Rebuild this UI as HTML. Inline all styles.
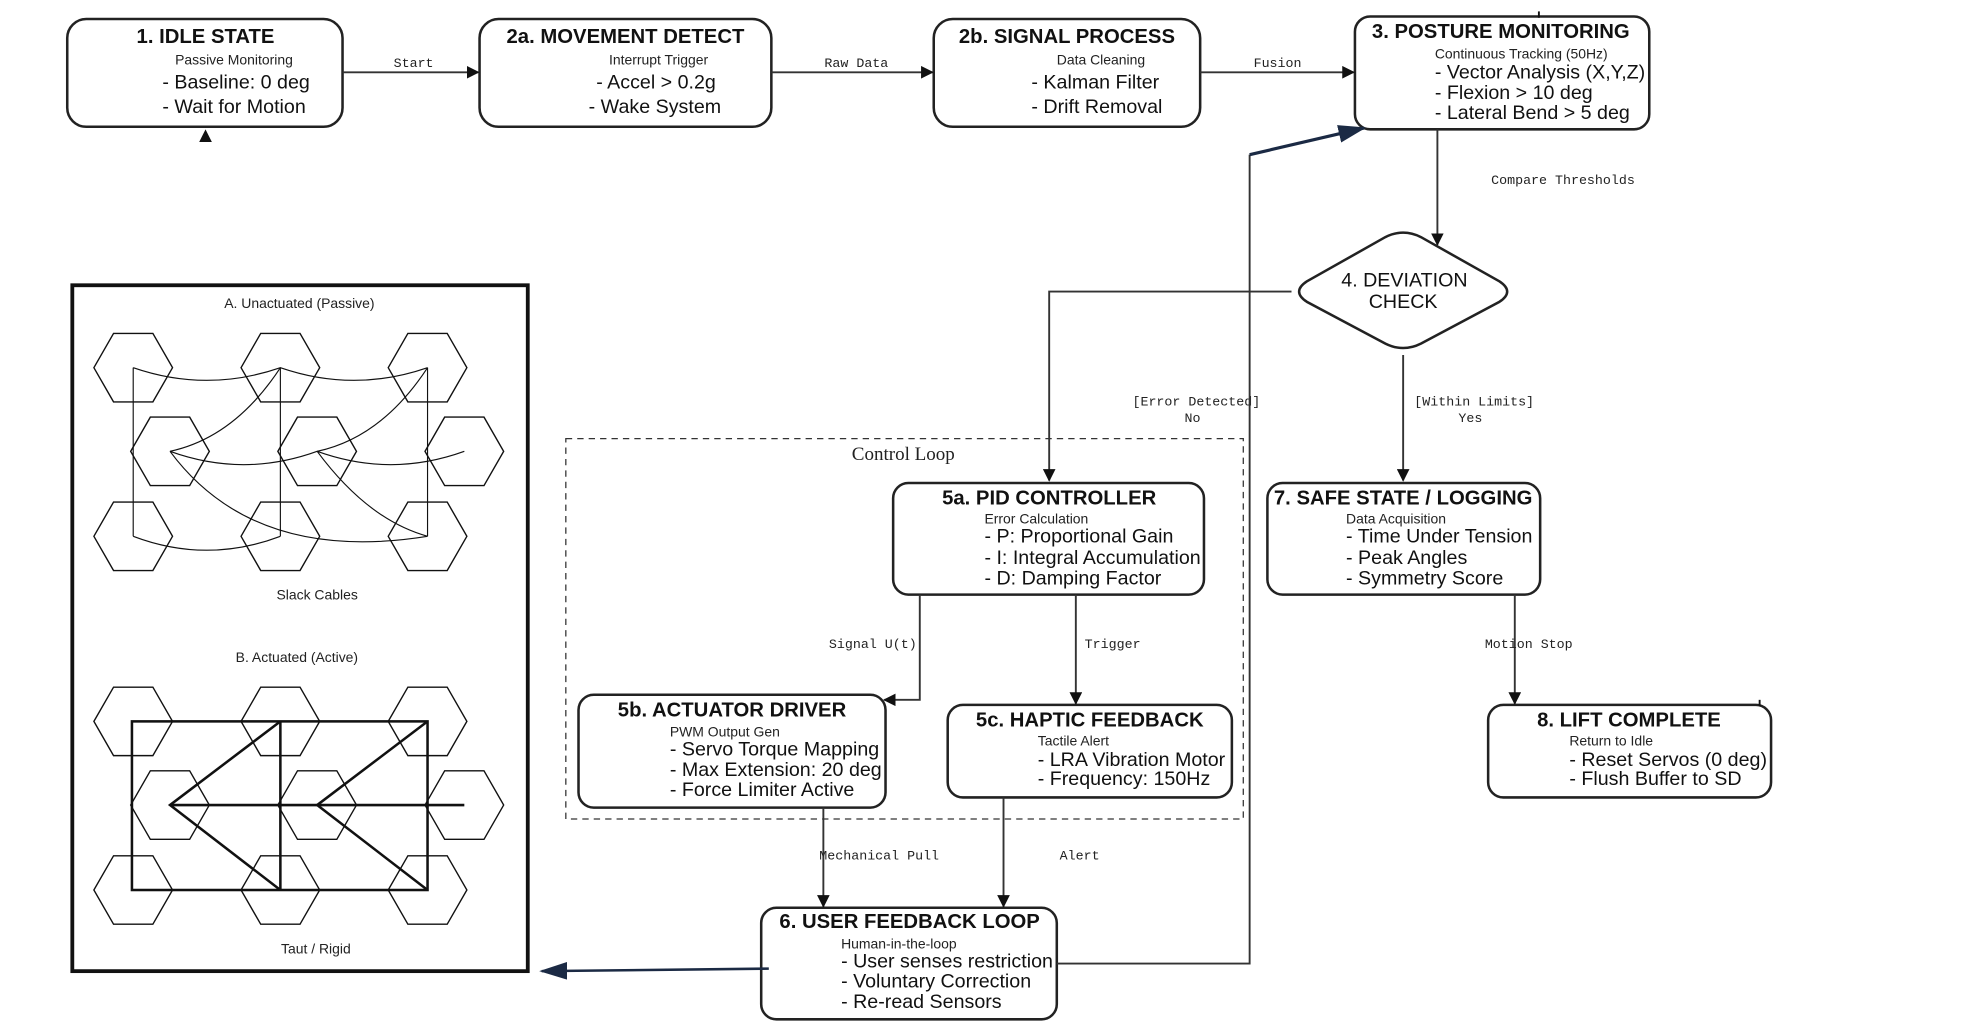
<!DOCTYPE html>
<html><head><meta charset="utf-8"><style>
html,body{margin:0;padding:0;background:#fff;width:1988px;height:1032px;overflow:hidden}
svg{display:block}
.t{font-family:"Liberation Sans",Arial,sans-serif;font-weight:bold;font-size:16px;text-anchor:middle;fill:#111}
.s{font-family:"Liberation Sans",Arial,sans-serif;font-size:11px;fill:#222}
.l{font-family:"Liberation Sans",Arial,sans-serif;font-size:15.5px;fill:#111}
.m{font-family:"Liberation Mono",monospace;font-size:10.5px;fill:#222;text-anchor:middle}
.p{font-family:"Liberation Sans",Arial,sans-serif;font-size:11px;fill:#222;text-anchor:middle}
.box{fill:#fff;stroke:#222;stroke-width:2}
.c{fill:none;stroke:#333;stroke-width:1.5}
.hx{fill:none;stroke:#111;stroke-width:1.1}
</style></head><body>
<svg width="1988" height="1032" viewBox="0 0 1567 814" preserveAspectRatio="none" xmlns="http://www.w3.org/2000/svg">
<defs>
<marker id="a" markerWidth="10" markerHeight="10" refX="9" refY="5" orient="auto" markerUnits="userSpaceOnUse"><path d="M0,0 L10,5 L0,10 z" fill="#111"/></marker>
<marker id="n" markerWidth="22" markerHeight="14" refX="20" refY="7" orient="auto" markerUnits="userSpaceOnUse"><path d="M0,0 L22,7 L0,14 z" fill="#1b2a44"/></marker>
<polygon id="h" points="-31,0 -15.5,-27 15.5,-27 31,0 15.5,27 -15.5,27"/>
</defs>

<rect class="box" x="53" y="15" width="217" height="85" rx="15"/>
<text class="t" x="162" y="34">1. IDLE STATE</text>
<text class="s" x="138" y="51">Passive Monitoring</text>
<text class="l" x="128" y="70">- Baseline: 0 deg</text>
<text class="l" x="128" y="89">- Wait for Motion</text>
<path d="M157,112 L162,102 L167,112 z" fill="#111"/>

<rect class="box" x="378" y="15" width="230" height="85" rx="15"/>
<text class="t" x="493" y="34">2a. MOVEMENT DETECT</text>
<text class="s" x="480" y="51">Interrupt Trigger</text>
<text class="l" x="470" y="70">- Accel &gt; 0.2g</text>
<text class="l" x="464" y="89">- Wake System</text>

<rect class="box" x="736" y="15" width="210" height="85" rx="15"/>
<text class="t" x="841" y="34">2b. SIGNAL PROCESS</text>
<text class="s" x="833" y="51">Data Cleaning</text>
<text class="l" x="813" y="70">- Kalman Filter</text>
<text class="l" x="813" y="89">- Drift Removal</text>

<rect class="box" x="1068" y="13" width="232" height="89" rx="12"/>
<text class="t" x="1183" y="30">3. POSTURE MONITORING</text>
<text class="s" x="1131" y="46">Continuous Tracking (50Hz)</text>
<text class="l" x="1131" y="62">- Vector Analysis (X,Y,Z)</text>
<text class="l" x="1131" y="78">- Flexion &gt; 10 deg</text>
<text class="l" x="1131" y="94">- Lateral Bend &gt; 5 deg</text>
<line x1="1213" y1="9" x2="1213" y2="14" stroke="#111" stroke-width="1.5"/>

<line class="c" x1="270" y1="57" x2="377" y2="57" marker-end="url(#a)"/>
<text class="m" x="326" y="53">Start</text>
<line class="c" x1="608" y1="57" x2="735" y2="57" marker-end="url(#a)"/>
<text class="m" x="675" y="53">Raw Data</text>
<line class="c" x1="946" y1="57" x2="1067" y2="57" marker-end="url(#a)"/>
<text class="m" x="1007" y="53">Fusion</text>

<line class="c" x1="1133" y1="102" x2="1133" y2="193" marker-end="url(#a)"/>
<text class="m" x="1232" y="145">Compare Thresholds</text>

<path d="M1092,187 Q1106,180 1120,187 L1182,222 Q1194,230 1182,238 L1120,271 Q1106,278 1092,271 L1030,238 Q1018,230 1030,222 z" fill="#fff" stroke="#222" stroke-width="2"/>
<text class="l" x="1107" y="226" text-anchor="middle">4. DEVIATION</text>
<text class="l" x="1106" y="243" text-anchor="middle">CHECK</text>

<polyline class="c" points="1018,230 827,230 827,379" marker-end="url(#a)"/>
<text class="m" x="943" y="320">[Error Detected]</text>
<text class="m" x="940" y="333">No</text>
<line class="c" x1="1106" y1="280" x2="1106" y2="379" marker-end="url(#a)"/>
<text class="m" x="1162" y="320">[Within Limits]</text>
<text class="m" x="1159" y="333">Yes</text>

<rect x="446" y="346" width="534" height="300" fill="none" stroke="#333" stroke-width="1" stroke-dasharray="5,4"/>
<text x="712" y="363" font-family="Liberation Serif,serif" font-size="15" text-anchor="middle" fill="#222">Control Loop</text>

<rect class="box" x="704" y="381" width="245" height="88" rx="12"/>
<text class="t" x="827" y="398">5a. PID CONTROLLER</text>
<text class="s" x="776" y="413">Error Calculation</text>
<text class="l" x="776" y="428">- P: Proportional Gain</text>
<text class="l" x="776" y="445">- I: Integral Accumulation</text>
<text class="l" x="776" y="461">- D: Damping Factor</text>

<rect class="box" x="999" y="381" width="215" height="88" rx="12"/>
<text class="t" x="1106" y="398">7. SAFE STATE / LOGGING</text>
<text class="s" x="1061" y="413">Data Acquisition</text>
<text class="l" x="1061" y="428">- Time Under Tension</text>
<text class="l" x="1061" y="445">- Peak Angles</text>
<text class="l" x="1061" y="461">- Symmetry Score</text>

<rect class="box" x="456" y="548" width="242" height="89" rx="12"/>
<text class="t" x="577" y="565">5b. ACTUATOR DRIVER</text>
<text class="s" x="528" y="581">PWM Output Gen</text>
<text class="l" x="528" y="596">- Servo Torque Mapping</text>
<text class="l" x="528" y="612">- Max Extension: 20 deg</text>
<text class="l" x="528" y="628">- Force Limiter Active</text>

<rect class="box" x="747" y="556" width="224" height="73" rx="12"/>
<text class="t" x="859" y="573">5c. HAPTIC FEEDBACK</text>
<text class="s" x="818" y="588">Tactile Alert</text>
<text class="l" x="818" y="604">- LRA Vibration Motor</text>
<text class="l" x="818" y="619">- Frequency: 150Hz</text>

<rect class="box" x="1173" y="556" width="223" height="73" rx="12"/>
<text class="t" x="1284" y="573">8. LIFT COMPLETE</text>
<text class="s" x="1237" y="588">Return to Idle</text>
<text class="l" x="1237" y="604">- Reset Servos (0 deg)</text>
<text class="l" x="1237" y="619">- Flush Buffer to SD</text>
<line x1="1387" y1="552" x2="1387" y2="557" stroke="#111" stroke-width="1.5"/>

<rect class="box" x="600" y="716" width="233" height="88" rx="12"/>
<text class="t" x="717" y="732">6. USER FEEDBACK LOOP</text>
<text class="s" x="663" y="748">Human-in-the-loop</text>
<text class="l" x="663" y="763">- User senses restriction</text>
<text class="l" x="663" y="779">- Voluntary Correction</text>
<text class="l" x="663" y="795">- Re-read Sensors</text>

<polyline class="c" points="725,469 725,552 697,552" marker-end="url(#a)"/>
<text class="m" x="688" y="511">Signal U(t)</text>
<line class="c" x1="848" y1="469" x2="848" y2="555" marker-end="url(#a)"/>
<text class="m" x="877" y="511">Trigger</text>
<line class="c" x1="1194" y1="469" x2="1194" y2="555" marker-end="url(#a)"/>
<text class="m" x="1205" y="511">Motion Stop</text>
<line class="c" x1="649" y1="637" x2="649" y2="715" marker-end="url(#a)"/>
<text class="m" x="693" y="678">Mechanical Pull</text>
<line class="c" x1="791" y1="629" x2="791" y2="715" marker-end="url(#a)"/>
<text class="m" x="851" y="678">Alert</text>

<polyline class="c" points="833,760 985,760 985,122"/>
<line x1="985" y1="122" x2="1075" y2="101" stroke="#1b2a44" stroke-width="2.5" marker-end="url(#n)"/>
<line x1="606" y1="764" x2="427" y2="766" stroke="#1b2a44" stroke-width="2" marker-end="url(#n)"/>

<rect x="57" y="225" width="359" height="541" fill="#fff" stroke="#111" stroke-width="3"/>
<text class="p" x="236" y="243">A. Unactuated (Passive)</text>
<g class="hx">
<use href="#h" x="105" y="290"/><use href="#h" x="221" y="290"/><use href="#h" x="337" y="290"/>
<use href="#h" x="134" y="356"/><use href="#h" x="250" y="356"/><use href="#h" x="366" y="356"/>
<use href="#h" x="105" y="423"/><use href="#h" x="221" y="423"/><use href="#h" x="337" y="423"/>
</g>
<g fill="none" stroke="#111" stroke-width="0.9">
<path d="M105,290 L105,423 M221,290 L221,423 M337,290 L337,423"/>
<path d="M105,290 Q163,310 221,290 Q279,310 337,290"/>
<path d="M105,423 Q163,445 221,423"/>
<path d="M134,356 Q185,345 221,290"/>
<path d="M250,356 Q301,345 337,290"/>
<path d="M134,356 Q192,377 250,356 Q308,377 366,356"/>
<path d="M134,356 Q200,445 337,423"/>
<path d="M250,356 Q290,410 337,423"/>
</g>
<text class="p" x="250" y="473">Slack Cables</text>

<text class="p" x="234" y="522">B. Actuated (Active)</text>
<g class="hx">
<use href="#h" x="105" y="569"/><use href="#h" x="221" y="569"/><use href="#h" x="337" y="569"/>
<use href="#h" x="134" y="635"/><use href="#h" x="250" y="635"/><use href="#h" x="366" y="635"/>
<use href="#h" x="105" y="702"/><use href="#h" x="221" y="702"/><use href="#h" x="337" y="702"/>
</g>
<g fill="none" stroke="#111" stroke-width="2">
<rect x="104" y="569" width="233" height="133"/>
<path d="M221,569 L221,702 M134,635 L366,635"/>
<path d="M221,569 L134,635 L221,702 M337,569 L250,635 L337,702"/>
</g>
<text class="p" x="249" y="752">Taut / Rigid</text>
</svg>
</body></html>
